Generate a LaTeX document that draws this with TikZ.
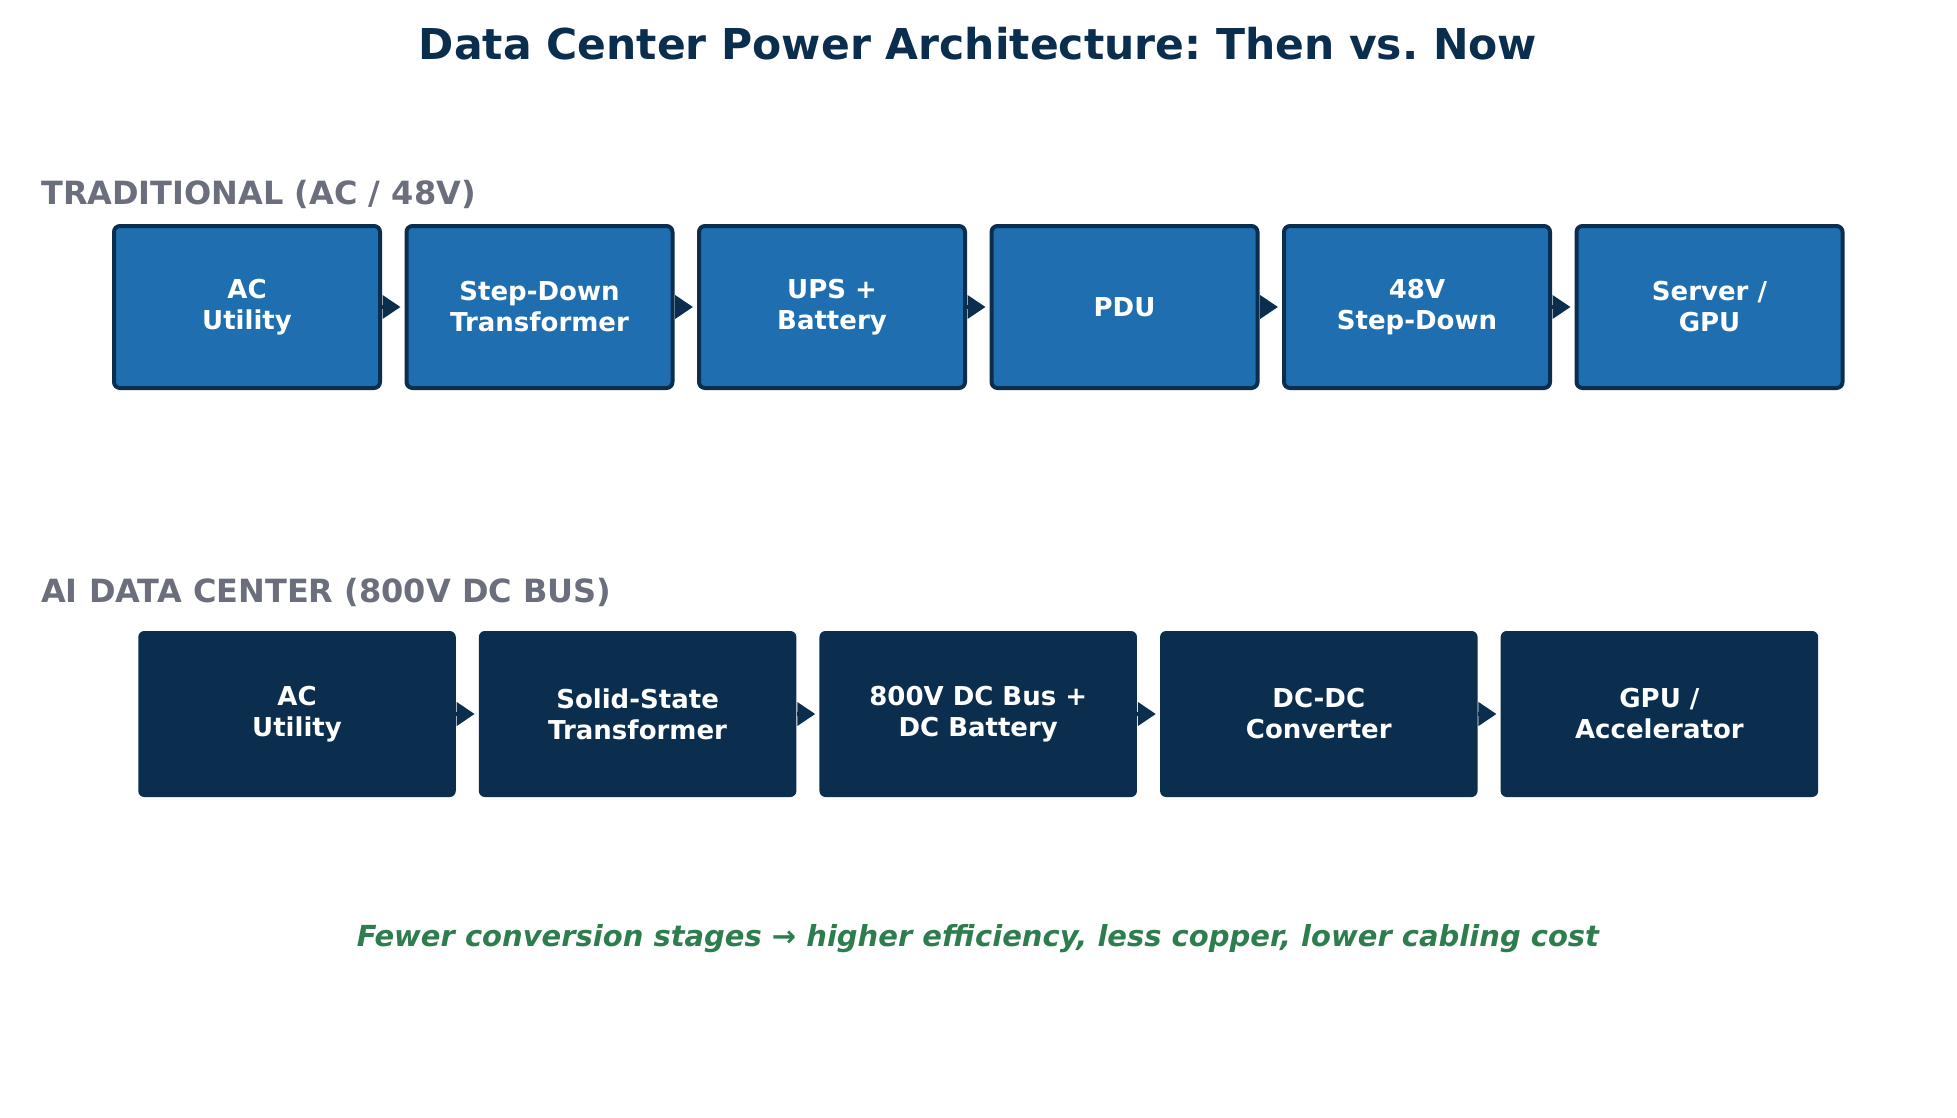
\documentclass[tikz,border=0pt]{standalone}
\usepackage{fontspec}
\setmainfont{DejaVu Sans}
\usetikzlibrary{positioning, arrows.meta}
\definecolor{dcnavy}{HTML}{0B2E4F}
\definecolor{dcblue}{HTML}{1F6EB0}
\definecolor{dcgrey}{HTML}{6B6E7C}
\definecolor{dcgreen}{HTML}{2E7D4F}
\frenchspacing
\begin{document}
\begin{tikzpicture}[x=1pt, y=-1pt,
      old/.style={draw=dcnavy, line width=4pt, fill=dcblue, rounded corners=6pt, text=white, font=\fontsize{26}{31}\selectfont\bfseries, minimum width=266pt, minimum height=162pt, align=center, inner sep=0pt},
      new/.style={fill=dcnavy, rounded corners=6pt, text=white, font=\fontsize{26}{31}\selectfont\bfseries, minimum width=317.5pt, minimum height=166pt, align=center, inner sep=0pt},
      flow/.style={-{Triangle[length=18pt, width=23pt]}, line width=4pt, color=dcnavy, shorten >=4pt},
      sec/.style={anchor=west, inner sep=0pt, text=dcgrey, font=\fontsize{32}{36}\selectfont\bfseries}]
    \useasboundingbox[fill=white] (0,0) rectangle (1957,1117);
    \node[text=dcnavy, font=\fontsize{42.5}{48}\selectfont\bfseries] (title) at (978,44) {Data Center Power Architecture: Then vs. Now};
    % traditional chain
    \node[sec] (ttrad) at (41,194) {TRADITIONAL (AC / 48V)};
    \node[old] (a1) at (247,307) {AC\\Utility};
    \node[old, right=22.5pt of a1] (a2) {Step-Down\\Transformer};
    \node[old, right=22.5pt of a2] (a3) {UPS +\\Battery};
    \node[old, right=22.5pt of a3] (a4) {PDU};
    \node[old, right=22.5pt of a4] (a5) {48V\\Step-Down};
    \node[old, right=22.5pt of a5] (a6) {Server /\\GPU};
    \draw[flow] (a1)--(a2); \draw[flow] (a2)--(a3); \draw[flow] (a3)--(a4);
    \draw[flow] (a4)--(a5); \draw[flow] (a5)--(a6);
    % 800V DC chain
    \node[sec] (tai) at (41,592) {AI DATA CENTER (800V DC BUS)};
    \node[new] (b1) at (297,714) {AC\\Utility};
    \node[new, right=22.7pt of b1] (b2) {Solid-State\\Transformer};
    \node[new, right=22.7pt of b2] (b3) {800V DC Bus +\\DC Battery};
    \node[new, right=22.7pt of b3] (b4) {DC-DC\\Converter};
    \node[new, right=22.7pt of b4] (b5) {GPU /\\Accelerator};
    \draw[flow] (b1)--(b2); \draw[flow] (b2)--(b3); \draw[flow] (b3)--(b4);
    \draw[flow] (b4)--(b5);
    \node[text=dcgreen, font=\fontsize{29}{34}\selectfont\bfseries\itshape] (note) at (978,939) {Fewer conversion stages → higher efficiency, less copper, lower cabling cost};
  \end{tikzpicture}
\end{document}
